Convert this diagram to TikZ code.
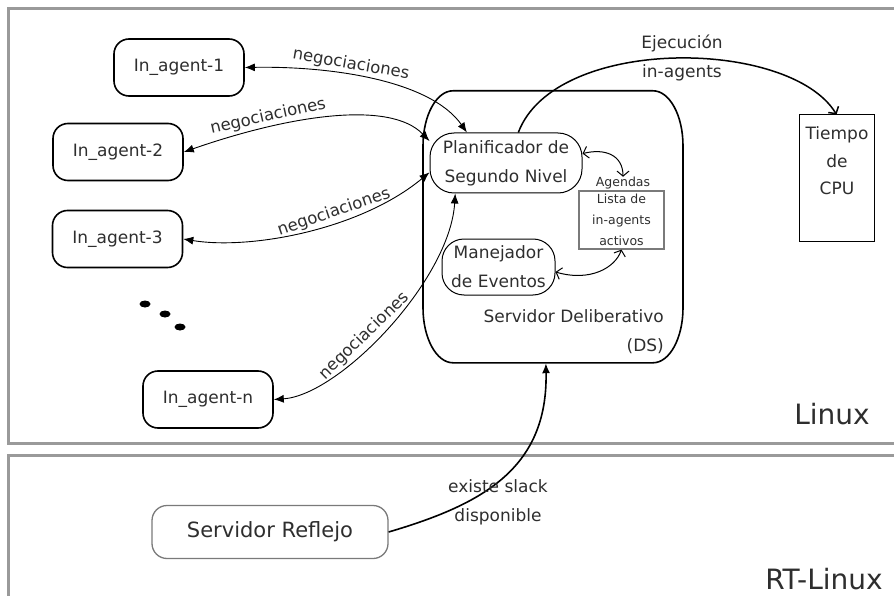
\documentclass[tikz,border=0pt]{standalone}
\usepackage{fontspec}
\setmainfont{DejaVu Sans}
\usetikzlibrary{arrows.meta}
\definecolor{layergray}{HTML}{9A9A9A}
\definecolor{ink}{HTML}{2E2E2E}
\definecolor{boxgray}{HTML}{7A7A7A}

\begin{document}
\begin{tikzpicture}[x=1pt,y=-1pt,
  openhead/.tip={Straight Barb[length=5pt,width=12pt]},
  solidhead/.tip={Latex[length=10pt,width=8pt]},
  txt/.style={text=ink, font=\fontsize{17}{29}\selectfont, align=center},
  agent/.style={txt, draw=black, line width=1.6pt, rounded corners=15pt,
    minimum width=130pt, minimum height=57pt, inner sep=0pt},
  module/.style={txt, draw=black, line width=1pt, rounded corners=24pt, inner sep=0pt},
  layer/.style={draw=layergray, line width=3pt},
  nego/.style={line width=0.9pt, {solidhead}-{solidhead}},
  lbl/.style={text=ink, font=\fontsize{16.5}{20}\selectfont, inner sep=2pt},
  small/.style={text=ink, font=\fontsize{12.5}{21}\selectfont, align=center, inner sep=0pt},
  link/.style={line width=1pt, {openhead}-{openhead}},
]
\useasboundingbox (0,0) rectangle (894,596);

% operating system layers
\draw[layer] (8.5,9) rectangle (905,443);
\draw[layer] (8.5,455) rectangle (905,610);

% in-agents
\node[agent] (a1) at (179,67.5) {In\_agent-1};
\node[agent] (a2) at (118,152) {In\_agent-2};
\node[agent] (a3) at (117.5,239) {In\_agent-3};
\node[agent] (an) at (208,399.5) {In\_agent-n};
\fill (145,304) ellipse [x radius=5.5, y radius=3.5];
\fill (165,314) ellipse [x radius=5.5, y radius=3.5];
\fill (180,327) ellipse [x radius=5.5, y radius=3.5];

% deliberative server
\node[minimum width=260pt, minimum height=272pt, inner sep=0pt] (ds) at (553,227) {};
\draw[line width=1.6pt] (ds.north) -- ++(-100,0)
  arc[start angle=-90, end angle=-180, x radius=30, y radius=55] -- ++(0,162)
  arc[start angle=180, end angle=90, x radius=30, y radius=55] -- ++(200,0)
  arc[start angle=90, end angle=0, x radius=30, y radius=55] -- ++(0,-162)
  arc[start angle=0, end angle=-90, x radius=30, y radius=55] -- cycle;
\node[txt, anchor=east, align=right, inner sep=0pt] (dslbl) at (664,332)
  {Servidor Deliberativo\\(DS)};

\node[module, minimum width=152pt, minimum height=60pt] (plan) at (506,163)
  {Planificador de\\Segundo Nivel};
\node[module, minimum width=113pt, minimum height=56pt, rounded corners=22pt] (man)
  at (498.5,267) {Manejador\\de Eventos};
\node[small, draw=boxgray, line width=1.2pt, minimum width=85pt, minimum height=58pt]
  (lista) at (621.5,220) {Lista de\\in-agents\\activos};
\node[small] (agendas) at (623,183) {Agendas};

% CPU time
\node[draw=black, line width=1pt, minimum width=75pt, minimum height=126pt, inner sep=0pt]
  (cpu) at (836.5,178) {};
\node[txt, font=\fontsize{17}{27.5}\selectfont, inner sep=0pt] (cpulbl) at (837,161)
  {Tiempo\\de\\CPU};

% reflex server
\node[txt, font=\fontsize{21}{25}\selectfont, draw=boxgray, line width=1.3pt,
  rounded corners=15pt, minimum width=236pt, minimum height=53pt, inner sep=0pt]
  (refl) at (270,532) {Servidor Reflejo};

% layer names
\node[text=ink, font=\fontsize{28}{30}\selectfont, inner sep=0pt] (linux) at (832,414) {Linux};
\node[text=ink, font=\fontsize{28}{30}\selectfont, inner sep=0pt] (rtlinux) at (824,579) {RT-Linux};

% negotiations
\draw[nego] (a1.east) .. controls (330,66) and (430,80) .. (plan.142)
  node[lbl, sloped, above, pos=0.4] {negociaciones};
\draw[nego] (a2.east) .. controls (290,115) and (390,100) .. (plan.164)
  node[lbl, sloped, above, pos=0.28] {negociaciones};
\draw[nego] (a3.east) .. controls (250,250) and (360,230) .. (plan.187)
  node[lbl, sloped, above, pos=0.62] {negociaciones};
\draw[nego] (an.east) .. controls (340,395) and (450,280) .. (plan.211)
  node[lbl, sloped, above, pos=0.43] {negociaciones};

% execution on the CPU
\draw[line width=1.5pt, -{openhead}] (plan.68) .. controls (555,35) and (790,38) .. (cpu.north)
  node[txt, inner sep=0pt, pos=0.52] {Ejecución\\in-agents};

% agenda links
\draw[link] (plan.7) .. controls (605,148) and (623,155) .. (agendas.north);
\draw[link] (man.-5) .. controls (590,282) and (615,268) .. (lista.south);

% slack notification
\draw[line width=1.6pt, -{solidhead}] (refl.east) .. controls (480,505) and (548,470) .. (ds.267);
\node[txt, inner sep=0pt] (slack) at (498,502) {existe slack\\disponible};

\end{tikzpicture}
\end{document}
